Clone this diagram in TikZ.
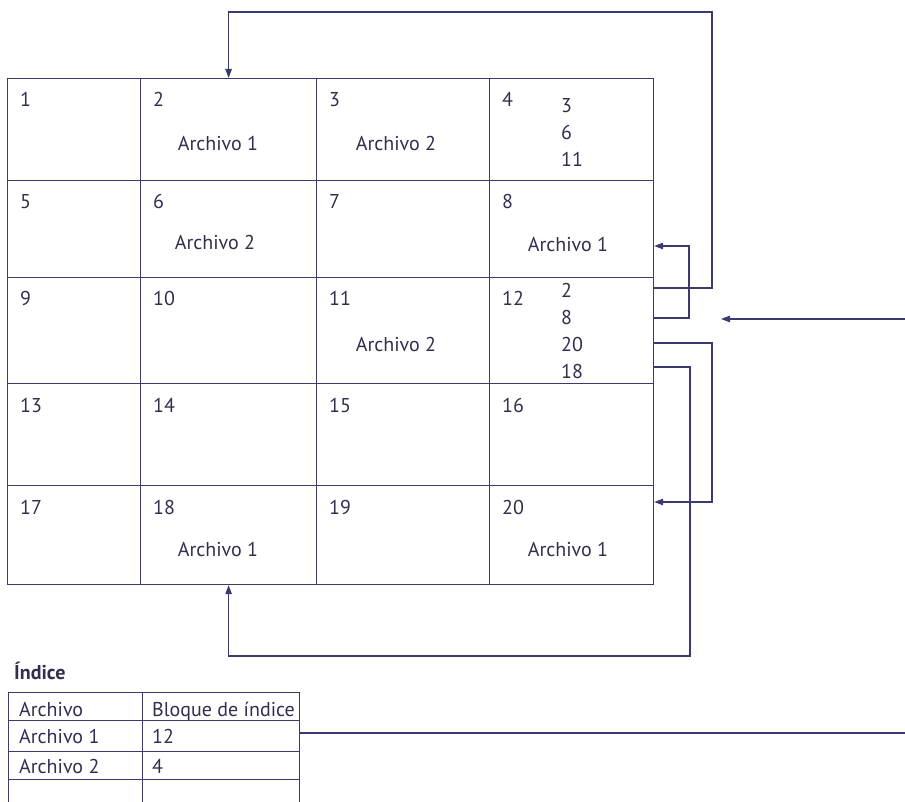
\documentclass[tikz,border=0pt]{standalone}
\usepackage{fontspec}
\setmainfont{PT Sans}
\usetikzlibrary{arrows.meta,calc}
\definecolor{ln}{RGB}{58,58,110}
\definecolor{tx}{RGB}{48,48,78}
\begin{document}
\begin{tikzpicture}[x=1pt,y=-1pt,
  every node/.style={font=\fontsize{20}{23}\selectfont, text=tx, inner sep=0pt},
  cellbox/.style={draw=ln, line width=1.2pt, anchor=north west, inner sep=0pt, rectangle},
  lbl/.style={anchor=base west},
  mid/.style={anchor=base},
  conn/.style={draw=ln, line width=1.2pt},
  tip/.style={-{Triangle[length=9pt,width=6.5pt]}},
]
\useasboundingbox (0,0) rectangle (905,802);
% grid cells
\foreach \n/\x/\y/\w/\h in {
  1/7/78/133/102, 2/140/78/176/102, 3/316/78/173/102, 4/489/78/164/102,
  5/7/180/133/97, 6/140/180/176/97, 7/316/180/173/97, 8/489/180/164/97,
  9/7/277/133/106, 10/140/277/176/106, 11/316/277/173/106, 12/489/277/164/106,
  13/7/383/133/102, 14/140/383/176/102, 15/316/383/173/102, 16/489/383/164/102,
  17/7/485/133/99, 18/140/485/176/99, 19/316/485/173/99, 20/489/485/164/99}{
  \node[cellbox, minimum width=\w pt, minimum height=\h pt] (c\n) at (\x,\y) {};
  \node[lbl] (n\n) at (\x+13,\y+29) {\n};
}
% file labels
\node[mid] (a2) at (218,151) {Archivo 1};
\node[mid] (a3) at (396,151) {Archivo 2};
\node[mid] (a6) at (215,250) {Archivo 2};
\node[mid] (a8) at (568,252) {Archivo 1};
\node[mid] (a11) at (396,352) {Archivo 2};
\node[mid] (a18) at (218,556) {Archivo 1};
\node[mid] (a20) at (568,556) {Archivo 1};
% index block 4
\node[lbl] (q3) at (561,113) {3};
\node[lbl] (q6) at (561,140) {6};
\node[lbl] (q11) at (561,167) {11};
% index block 12
\node[lbl] (p2) at (561,298) {2};
\node[lbl] (p8) at (561,325) {8};
\node[lbl] (p20) at (561,352) {20};
\node[lbl] (p18) at (561,378) {18};
% pointers
\draw[conn,tip] ($(c12.north east)+(0,11)$) -- (712,288) -- (712,12) -- (c2.north |- 0,12) -- (c2.north);
\draw[conn,tip] ($(c12.north east)+(0,41)$) -- (689,318) -- (689,246) -- ($(c8.north east)+(0,66)$);
\draw[conn,tip] ($(c12.north east)+(0,66)$) -- (712,343) -- (712,502) -- ($(c20.north east)+(0,17)$);
\draw[conn,tip] ($(c12.north east)+(0,90)$) -- (690,367) -- (690,656) -- (c18.south |- 0,656) -- (c18.south);
% index table
\node[anchor=base west, font=\fontsize{20}{23}\selectfont\bfseries] (idx) at (14,679) {Índice};
\node[cellbox, minimum width=134pt, minimum height=28pt] (t11) at (8,692) {};
\node[cellbox, minimum width=157pt, minimum height=28pt] (t12) at (142,692) {};
\node[cellbox, minimum width=134pt, minimum height=31pt] (t21) at (8,720) {};
\node[cellbox, minimum width=157pt, minimum height=31pt] (t22) at (142,720) {};
\node[cellbox, minimum width=134pt, minimum height=28pt] (t31) at (8,751) {};
\node[cellbox, minimum width=157pt, minimum height=28pt] (t32) at (142,751) {};
\node[cellbox, minimum width=134pt, minimum height=40pt] (t41) at (8,779) {};
\node[cellbox, minimum width=157pt, minimum height=40pt] (t42) at (142,779) {};
\node[lbl] at (19,716) {Archivo};
\node[lbl] at (152,716) {Bloque de índice};
\node[lbl] at (19,743) {Archivo 1};
\node[lbl] at (152,743) {12};
\node[lbl] at (19,773) {Archivo 2};
\node[lbl] at (152,773) {4};
% pointer from index table to block 12
\coordinate (far) at (915,733);
\draw[conn,tip] ($(t22.north east)+(0,13)$) -- (far) -- (915,319) -- (721,319);
\end{tikzpicture}
\end{document}
